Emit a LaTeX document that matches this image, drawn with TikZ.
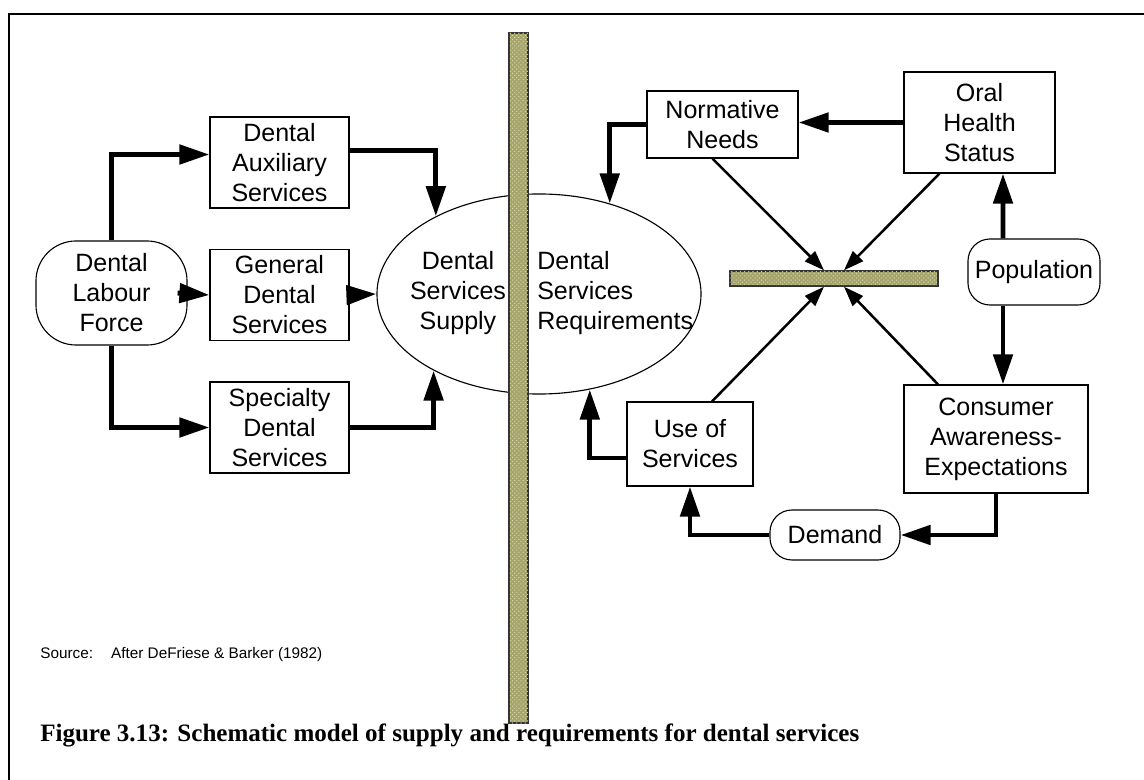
\documentclass[tikz,border=0pt]{standalone}
\usepackage{fontspec}
\setmainfont{Liberation Sans}
\newfontfamily\capfont{Liberation Serif}
\usetikzlibrary{arrows.meta,calc,shapes.geometric,patterns}
\definecolor{barolive}{RGB}{164,164,108}
\definecolor{barlight}{RGB}{214,214,166}

\begin{document}
\begin{tikzpicture}[x=0.025cm,y=-0.025cm,
  lbl/.style={font={\fontsize{17.8}{21.3}\selectfont},align=center,inner sep=0pt},
  box/.style={lbl,draw,line width=0.8pt,minimum width=3.475cm,minimum height=2.275cm},
  pill/.style={lbl,draw,line width=0.8pt,rounded corners=0.55cm},
  bar/.style={draw=black!80,line width=1pt,fill=barolive,inner sep=0pt,
    postaction={pattern=crosshatch dots,pattern color=barlight}},
  fat/.style={line width=3.5pt,-{Triangle[length=7.5mm,width=4.75mm]}},
  slim/.style={line width=1.8pt,-{Triangle[length=5mm,width=3.5mm]}}]
  \useasboundingbox (0,0) rectangle (1144,780);
  % frame
  \draw[line width=1.8pt] (9,780) -- (9,14) -- (1144,14);

  % supply side
  \node[lbl,draw,line width=0.8pt,rounded corners=1cm,minimum width=3.775cm,minimum height=2.6cm]
    (labour) at (111.5,293) {Dental\\Labour\\Force};
  \node[box] (aux) at (279.5,162.5) {Dental\\Auxiliary\\Services};
  \node[box] (gen) at (279.5,295) {General\\Dental\\Services};
  \node[box] (spec) at (279.5,427.5) {Specialty\\Dental\\Services};
  \node[draw,ellipse,line width=0.8pt,inner sep=0pt,minimum width=8.1cm,minimum height=5cm]
    (supply) at (539,294) {};
  \node[bar,minimum width=0.475cm,minimum height=17.25cm] (vbar) at (518.5,378) {};
  \node[lbl] (suptxt) at (458,293) {Dental\\Services\\Supply};
  \node[lbl,align=left,anchor=west] (reqtxt) at (537,293) {Dental\\Services\\Requirements};

  % requirements side
  \node[box,minimum width=3.775cm,minimum height=1.675cm] (norm) at (722.5,124.5) {Normative\\Needs};
  \node[box,minimum width=3.775cm,minimum height=2.525cm] (oral) at (979.5,122.5) {Oral\\Health\\Status};
  \node[pill,minimum width=3.3cm,minimum height=1.65cm] (pop) at (1034,272) {Population};
  \node[bar,minimum width=5.2cm,minimum height=0.375cm] (hbar) at (834,278.5) {};
  \node[box,minimum width=4.6cm,minimum height=2.7cm] (cons) at (996,439) {Consumer\\Awareness-\\Expectations};
  \node[box,minimum width=3.15cm,minimum height=2.1cm] (use) at (690,444) {Use of\\Services};
  \node[pill,minimum width=3.25cm,minimum height=1.25cm] (demand) at (835,535) {Demand};

  % thick links
  \draw[fat] (labour.north) |- ($(aux.west)+(0,-8)$);
  \draw[fat] ($(labour.east)+(-10,0)$) -- (gen.west);
  \draw[fat] (labour.south) |- (spec.west);
  \draw[fat] ($(aux.east)+(0,-12)$) -| (supply.143.5);
  \draw[fat] (gen.east) -- (supply.west);
  \draw[fat] (spec.east) -| (supply.216.5);
  \draw[fat] (oral.west) -- (oral.west -| norm.east);
  \draw[fat] (norm.west) -| (supply.52.7);
  \draw[fat] ($(pop.north)+(-31,0)$) -- ($(oral.south)+(23.5,0)$);
  \draw[fat] ($(pop.south)+(-31,0)$) -- ($(cons.north)+(7,0)$);
  \draw[fat] (cons.south) |- (demand.east);
  \draw[fat] (demand.west) -| (use.south);
  \draw[fat] ($(use.west)+(0,14)$) -| (supply.298.3);

  % thin links to the bar
  \draw[slim] ($(norm.south)+(-10,0)$) -- ($(hbar.north)+(-10,0)$);
  \draw[slim] ($(oral.south)+(-40,0)$) -- ($(hbar.north)+(10,0)$);
  \draw[slim] ($(use.north)+(22,0)$) -- ($(hbar.south)+(-10,0)$);
  \draw[slim] ($(cons.north)+(-58,0)$) -- ($(hbar.south)+(10,0)$);

  % source and caption
  \node[anchor=west,inner sep=0pt,font={\fontsize{10.9}{13}\selectfont}] (src) at (40,655)
    {Source:\hspace{0.45cm}After DeFriese \& Barker (1982)};
  \node[anchor=west,inner sep=0pt,font={\capfont\bfseries\fontsize{17.8}{21}\selectfont}] (cap) at (40,735)
    {Figure 3.13: Schematic model of supply and requirements for dental services};
\end{tikzpicture}
\end{document}
